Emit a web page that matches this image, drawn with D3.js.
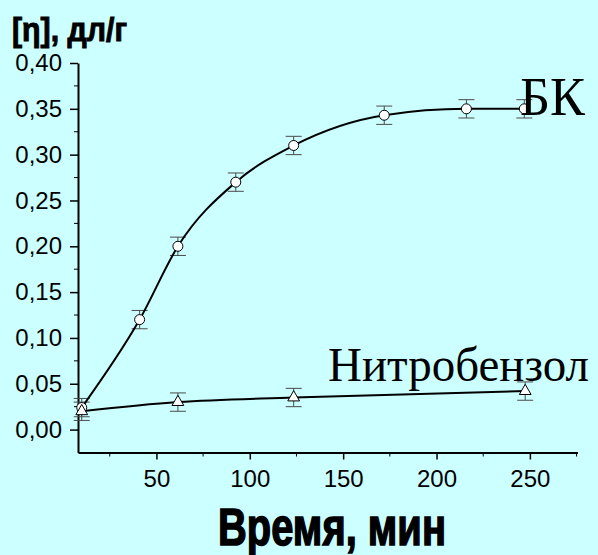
<!DOCTYPE html>
<html>
<head>
<meta charset="utf-8">
<script src="https://cdn.jsdelivr.net/npm/d3@7"></script>
<style>
  html, body { margin: 0; padding: 0; background: #ccffff; }
  svg { display: block; }
</style>
</head>
<body>
<div id="chart"></div>
<script>
// time, min
const bkTime = [10, 41, 61.5, 92.5, 123.5, 172, 216, 247];
const bkEta = [0.024, 0.12, 0.2, 0.27, 0.31, 0.343, 0.35, 0.35];
const bkErr = [0.01, 0.01, 0.01, 0.01, 0.01, 0.01, 0.01, 0.01];

const nbTime = [10, 61.5, 123.5, 247.5];
const nbEta = [0.02, 0.03, 0.035, 0.042];
const nbErr = [0.01, 0.01, 0.01, 0.01];

const xTicks = [50, 100, 150, 200, 250];
const yTicks = [0, 0.05, 0.1, 0.15, 0.2, 0.25, 0.3, 0.35, 0.4];

const width = 598,
  height = 555;

const svg = d3
  .select("#chart")
  .append("svg")
  .attr("width", width)
  .attr("height", height);

svg.append("rect").attr("width", width).attr("height", height).attr("fill", "#ccffff");

const x = d3.scaleLinear().domain([8, 275.5]).range([78, 577.5]);
const y = d3.scaleLinear().domain([-0.025, 0.4]).range([452.5, 63]);

const fmt = (d) => d3.format(".2f")(d).replace(".", ",");

// axes
const xAxis = svg
  .append("g")
  .attr("transform", `translate(0,${y(-0.025)})`)
  .call(d3.axisBottom(x).tickValues(xTicks).tickSize(7).tickSizeOuter(0).tickPadding(10));
const yAxis = svg
  .append("g")
  .attr("transform", `translate(${x(8)},0)`)
  .call(d3.axisLeft(y).tickValues(yTicks).tickFormat(fmt).tickSize(8).tickSizeOuter(0).tickPadding(8));

// minor ticks
svg
  .append("g")
  .selectAll("line")
  .data(d3.range(25, 276, 50))
  .join("line")
  .attr("x1", (d) => x(d))
  .attr("x2", (d) => x(d))
  .attr("y1", y(-0.025))
  .attr("y2", y(-0.025) + 4)
  .attr("stroke", "#000");
svg
  .append("g")
  .selectAll("line")
  .data(d3.range(0.025, 0.4, 0.05))
  .join("line")
  .attr("x1", x(8) - 4)
  .attr("x2", x(8))
  .attr("y1", (d) => y(d))
  .attr("y2", (d) => y(d))
  .attr("stroke", "#000");

[xAxis, yAxis].forEach((g) => {
  g.select(".domain").attr("stroke-width", 2);
  g.selectAll(".tick line").attr("stroke-width", 1.5);
  g.selectAll("text")
    .attr("fill", "#000")
    .style("font-family", "'Liberation Sans', Arial, sans-serif")
    .style("font-size", "24px");
});

// error bars
function errorBars(times, vals, errs) {
  const g = svg.append("g").attr("stroke", "#4a4a4a").attr("stroke-width", 1);
  times.forEach((t, i) => {
    const cx = x(t);
    const top = y(vals[i] + errs[i]);
    const bot = y(vals[i] - errs[i]);
    g.append("line").attr("x1", cx).attr("x2", cx).attr("y1", top).attr("y2", bot);
    g.append("line").attr("x1", cx - 8).attr("x2", cx + 8).attr("y1", top).attr("y2", top);
    g.append("line").attr("x1", cx - 8).attr("x2", cx + 8).attr("y1", bot).attr("y2", bot);
  });
}
errorBars(bkTime, bkEta, bkErr);
errorBars(nbTime, nbEta, nbErr);

// curves
const line = d3
  .line()
  .x((d) => x(d[0]))
  .y((d) => y(d[1]))
  .curve(d3.curveMonotoneX);

svg
  .append("path")
  .datum(d3.zip(bkTime, bkEta))
  .attr("d", line)
  .attr("fill", "none")
  .attr("stroke", "#000")
  .attr("stroke-width", 2);
svg
  .append("path")
  .datum(d3.zip(nbTime, nbEta))
  .attr("d", line)
  .attr("fill", "none")
  .attr("stroke", "#000")
  .attr("stroke-width", 2);

// markers
svg
  .append("g")
  .selectAll("circle")
  .data(d3.zip(bkTime, bkEta))
  .join("circle")
  .attr("cx", (d) => x(d[0]))
  .attr("cy", (d) => y(d[1]))
  .attr("r", 5)
  .attr("fill", "#fff")
  .attr("stroke", "#000")
  .attr("stroke-width", 1);

const tri = d3.symbol().type(d3.symbolTriangle).size(60);
svg
  .append("g")
  .selectAll("path")
  .data(d3.zip(nbTime, nbEta))
  .join("path")
  .attr("transform", (d) => `translate(${x(d[0])},${y(d[1])})`)
  .attr("d", tri)
  .attr("fill", "#fff")
  .attr("stroke", "#000")
  .attr("stroke-width", 1);

// series labels
svg
  .append("text")
  .attr("x", 520)
  .attr("y", 115)
  .style("font-family", "'Liberation Serif', 'Times New Roman', serif")
  .style("font-size", "54px")
  .attr("textLength", 65)
  .attr("lengthAdjust", "spacingAndGlyphs")
  .text("БК");
svg
  .append("text")
  .attr("x", 328)
  .attr("y", 381)
  .style("font-family", "'Liberation Serif', 'Times New Roman', serif")
  .style("font-size", "48px")
  .attr("textLength", 261)
  .attr("lengthAdjust", "spacingAndGlyphs")
  .text("Нитробензол");

// axis titles
svg
  .append("text")
  .attr("x", 12)
  .attr("y", 41)
  .style("font-family", "'Liberation Sans', Arial, sans-serif")
  .style("font-weight", "bold")
  .style("font-size", "34px")
  .attr("stroke", "#000")
  .attr("stroke-width", 1)
  .attr("textLength", 115)
  .attr("lengthAdjust", "spacingAndGlyphs")
  .text("[η], дл/г");
svg
  .append("text")
  .attr("x", 218)
  .attr("y", 545)
  .style("font-family", "'Liberation Sans', Arial, sans-serif")
  .style("font-weight", "bold")
  .style("font-size", "51px")
  .attr("stroke", "#000")
  .attr("stroke-width", 1.5)
  .attr("textLength", 228)
  .attr("lengthAdjust", "spacingAndGlyphs")
  .text("Время, мин");
</script>
</body>
</html>
